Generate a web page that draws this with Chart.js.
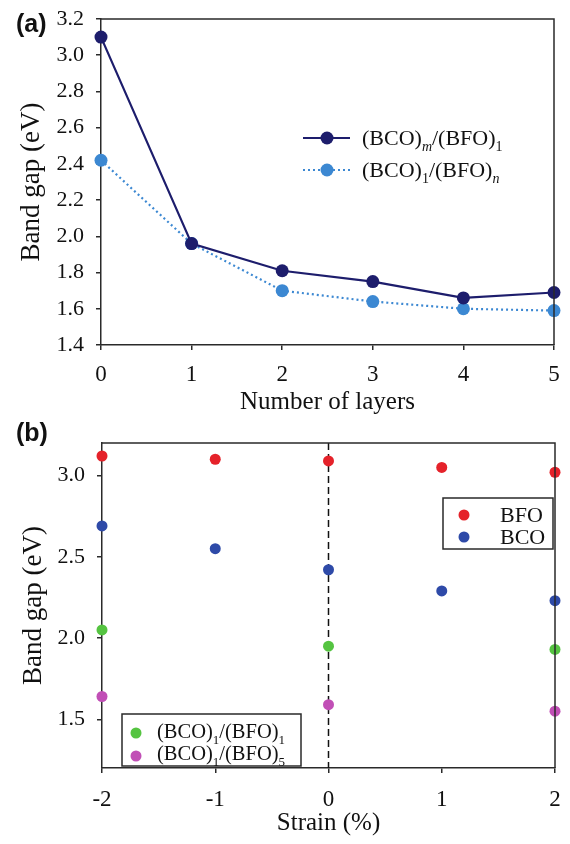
<!DOCTYPE html>
<html><head><meta charset="utf-8">
<script src="https://cdn.jsdelivr.net/npm/chart.js@4/dist/chart.umd.min.js"></script>
<style>
html,body{margin:0;padding:0;background:#fff;}
#wrap{position:relative;width:570px;height:844px;overflow:hidden;}
.pane{position:absolute;left:0;width:570px;}
.lbl{position:absolute;font-family:"Liberation Sans",Arial,sans-serif;font-weight:bold;font-size:25px;line-height:28px;color:#111;}
</style></head><body>
<div id="wrap">
<div class="pane" style="top:0;height:415px"><canvas id="ca"></canvas></div>
<div class="pane" style="top:415px;height:429px"><canvas id="cb"></canvas></div>
<div class="lbl" style="left:16px;top:9px">(a)</div>
<div class="lbl" style="left:16px;top:418px">(b)</div>
</div>
<script>
// ---------- data: panel (a) ----------
const layers = [0, 1, 2, 3, 4, 5];
const gapBCOmBFO1 = [3.10, 1.96, 1.81, 1.75, 1.66, 1.69];
const gapBCO1BFOn = [2.42, 1.96, 1.70, 1.64, 1.60, 1.59];
const yTicksA = [1.4, 1.6, 1.8, 2.0, 2.2, 2.4, 2.6, 2.8, 3.0, 3.2];
const xTicksA = [0, 1, 2, 3, 4, 5];
// ---------- data: panel (b) ----------
const strain = [-2, -1, 0, 1, 2];
const gapBFO = [3.12, 3.10, 3.09, 3.05, 3.02];
const gapBCO = [2.69, 2.55, 2.42, 2.29, 2.23];
const strainSL = [-2, 0, 2];
const gapSL11 = [2.05, 1.95, 1.93];
const gapSL15 = [1.64, 1.59, 1.55];
const yTicksB = [1.5, 2.0, 2.5, 3.0];
const xTicksB = [-2, -1, 0, 1, 2];

const SERIF = '"Liberation Serif","Times New Roman",serif';
const AX = '#2a2a2a';
const C_NAVY = '#1d1d6c', C_LBLUE = '#3c88d2';
const C_RED = '#e5222a', C_BLUE = '#2e4aa8', C_GREEN = '#55c441', C_MAG = '#c14fb6';

function pts(xs, ys){ return xs.map((x,i)=>({x:x, y:ys[i]})); }

function richText(ctx, parts, x, y, size){
  let cx = x;
  ctx.fillStyle = '#111';
  ctx.textBaseline = 'alphabetic';
  ctx.textAlign = 'left';
  for (const p of parts){
    const s = p.sub ? Math.round(size*0.62) : size;
    ctx.font = (p.it ? 'italic ' : '') + s + 'px ' + SERIF;
    ctx.fillText(p.t, cx, y + (p.sub ? size*0.27 : 0));
    cx += ctx.measureText(p.t).width;
  }
}
function dot(ctx, x, y, r, c){
  ctx.beginPath(); ctx.arc(x, y, r, 0, Math.PI*2); ctx.fillStyle = c; ctx.fill();
}
const frame = {
  id: 'frame',
  afterDatasetsDraw(chart){
    const {ctx, chartArea:a} = chart;
    ctx.save();
    ctx.strokeStyle = AX; ctx.lineWidth = 1.5;
    ctx.beginPath();
    ctx.moveTo(a.left, a.top); ctx.lineTo(a.right, a.top); ctx.lineTo(a.right, a.bottom);
    ctx.stroke();
    ctx.restore();
  }
};

function axisCommon(){
  return {
    type: 'linear',
    border: {display: true, color: AX, width: 1.5},
    grid: {display: true, drawOnChartArea: false, drawTicks: true, tickLength: 5, color: AX, lineWidth: 1.5},
  };
}
function fitX(h){ return s => { s.height = h; s.paddingLeft = 0; s.paddingRight = 0; }; }
function fitY(w){ return s => { s.width = w; s.paddingTop = 0; s.paddingBottom = 0; }; }

// ---------- chart (a) ----------
const legendA = {
  id: 'legendA',
  afterDraw(chart){
    const ctx = chart.ctx;
    ctx.save();
    ctx.strokeStyle = C_NAVY; ctx.lineWidth = 2.2; ctx.setLineDash([]);
    ctx.beginPath(); ctx.moveTo(303, 138); ctx.lineTo(350, 138); ctx.stroke();
    dot(ctx, 327, 138, 6.5, C_NAVY);
    richText(ctx, [{t:'(BCO)'},{t:'m',sub:1,it:1},{t:'/(BFO)'},{t:'1',sub:1}], 362, 145, 22);
    ctx.strokeStyle = C_LBLUE; ctx.lineWidth = 2.2; ctx.setLineDash([2,3]);
    ctx.beginPath(); ctx.moveTo(303, 170); ctx.lineTo(350, 170); ctx.stroke();
    ctx.setLineDash([]);
    dot(ctx, 327, 170, 6.5, C_LBLUE);
    richText(ctx, [{t:'(BCO)'},{t:'1',sub:1},{t:'/(BFO)'},{t:'n',sub:1,it:1}], 362, 177, 22);
    ctx.restore();
  }
};

const xa = axisCommon();
Object.assign(xa, {
  min: 0, max: 5,
  afterBuildTicks: s => { s.ticks = xTicksA.map(v=>({value:v})); },
  afterFit: fitX(70),
  ticks: {color:'#111', font:{family:SERIF, size:23}, padding: 11, callback: v => String(v)},
  title: {display:true, text:'Number of layers', color:'#111', font:{family:SERIF, size:25, lineHeight:1}, padding:{top:0,bottom:0}}
});
const ya = axisCommon();
Object.assign(ya, {
  min: 1.4, max: 3.2,
  afterBuildTicks: s => { s.ticks = yTicksA.map(v=>({value:v})); },
  afterFit: fitY(101),
  ticks: {color:'#111', font:{family:SERIF, size:22}, padding: 12, callback: v => Number(v).toFixed(1)},
  title: {display:true, text:'Band gap (eV)', color:'#111', font:{family:SERIF, size:27, lineHeight:1}, padding:{top:18,bottom:0}}
});

new Chart(document.getElementById('ca'), {
  type: 'line',
  data: {
    datasets: [
      {label:'(BCO)m/(BFO)1', data: pts(layers, gapBCOmBFO1), borderColor: C_NAVY, backgroundColor: C_NAVY,
       borderWidth: 2.2, pointRadius: 6.5, pointBorderWidth: 0, pointBackgroundColor: C_NAVY, tension: 0, clip: false, order: 1},
      {label:'(BCO)1/(BFO)n', data: pts(layers, gapBCO1BFOn), borderColor: C_LBLUE, backgroundColor: C_LBLUE,
       borderWidth: 2.2, borderDash: [2,3], pointRadius: 6.5, pointBorderWidth: 0, pointBackgroundColor: C_LBLUE, tension: 0, clip: false, order: 2}
    ]
  },
  options: {
    responsive: true, maintainAspectRatio: false, animation: false,
    layout: {padding: {top: 19, right: 16, bottom: 0, left: 0}},
    plugins: {legend: {display: false}, tooltip: {enabled: false}},
    scales: {x: xa, y: ya}
  },
  plugins: [frame, legendA]
});

// ---------- chart (b) ----------
const zeroLine = {
  id: 'zeroLine',
  beforeDatasetsDraw(chart){
    const {ctx, chartArea:a, scales} = chart;
    const x = scales.x.getPixelForValue(0);
    ctx.save();
    ctx.strokeStyle = '#111'; ctx.lineWidth = 1.5; ctx.setLineDash([7,4]);
    ctx.beginPath(); ctx.moveTo(x, a.top); ctx.lineTo(x, a.bottom); ctx.stroke();
    ctx.restore();
  }
};
const legendB = {
  id: 'legendB',
  afterDraw(chart){
    const ctx = chart.ctx;
    ctx.save();
    const top = 415;
    ctx.fillStyle = '#fff'; ctx.fillRect(443, 498-top, 110, 51);
    ctx.strokeStyle = AX; ctx.lineWidth = 1.5; ctx.strokeRect(443, 498-top, 110, 51);
    dot(ctx, 464, 515-top, 5.5, C_RED);
    dot(ctx, 464, 537-top, 5.5, C_BLUE);
    richText(ctx, [{t:'BFO'}], 500, 522-top, 22);
    richText(ctx, [{t:'BCO'}], 500, 544-top, 22);
    ctx.fillStyle = '#fff'; ctx.fillRect(122, 714-top, 179, 52);
    ctx.strokeStyle = AX; ctx.lineWidth = 1.5; ctx.strokeRect(122, 714-top, 179, 52);
    dot(ctx, 136, 733-top, 5.5, C_GREEN);
    dot(ctx, 136, 756-top, 5.5, C_MAG);
    richText(ctx, [{t:'(BCO)'},{t:'1',sub:1},{t:'/(BFO)'},{t:'1',sub:1}], 157, 738-top, 20.5);
    richText(ctx, [{t:'(BCO)'},{t:'1',sub:1},{t:'/(BFO)'},{t:'5',sub:1}], 157, 760-top, 20.5);
    ctx.restore();
  }
};

const xb = axisCommon();
Object.assign(xb, {
  min: -2, max: 2,
  afterBuildTicks: s => { s.ticks = xTicksB.map(v=>({value:v})); },
  afterFit: fitX(76),
  ticks: {color:'#111', font:{family:SERIF, size:23}, padding: 13, callback: v => String(v)},
  title: {display:true, text:'Strain (%)', color:'#111', font:{family:SERIF, size:25, lineHeight:1}, padding:{top:0,bottom:8}}
});
const yb = axisCommon();
Object.assign(yb, {
  min: 1.2, max: 3.2,
  afterBuildTicks: s => { s.ticks = yTicksB.map(v=>({value:v})); },
  afterFit: fitY(102),
  ticks: {color:'#111', font:{family:SERIF, size:22}, padding: 12, callback: v => Number(v).toFixed(1)},
  title: {display:true, text:'Band gap (eV)', color:'#111', font:{family:SERIF, size:27, lineHeight:1}, padding:{top:20,bottom:0}}
});

function sc(label, xs, ys, c){
  return {label, data: pts(xs, ys), backgroundColor: c, borderColor: c, pointRadius: 5.5, pointBorderWidth: 0, clip: false};
}

new Chart(document.getElementById('cb'), {
  type: 'scatter',
  data: {
    datasets: [
      sc('BFO', strain, gapBFO, C_RED),
      sc('BCO', strain, gapBCO, C_BLUE),
      sc('(BCO)1/(BFO)1', strainSL, gapSL11, C_GREEN),
      sc('(BCO)1/(BFO)5', strainSL, gapSL15, C_MAG)
    ]
  },
  options: {
    responsive: true, maintainAspectRatio: false, animation: false,
    layout: {padding: {top: 28, right: 15, bottom: 0, left: 0}},
    plugins: {legend: {display: false}, tooltip: {enabled: false}},
    scales: {x: xb, y: yb}
  },
  plugins: [zeroLine, frame, legendB]
});
</script>
</body></html>
